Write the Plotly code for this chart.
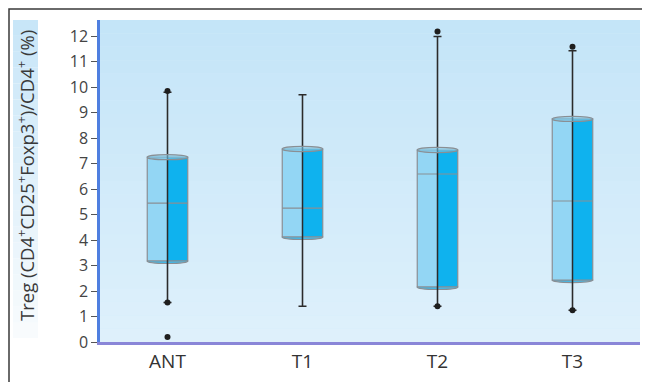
import plotly.graph_objects as go

# ---- data ----
categories = ["ANT", "T1", "T2", "T3"]
q1 = [3.18, 4.12, 2.16, 2.43]
median = [5.45, 5.25, 6.59, 5.53]
q3 = [7.25, 7.57, 7.53, 8.75]
lower_whisker = [1.55, 1.40, 1.40, 1.25]
upper_whisker = [9.80, 9.70, 11.98, 11.42]
point_cats = ["ANT", "ANT", "ANT", "T2", "T2", "T3", "T3"]
point_vals = [9.85, 1.55, 0.20, 12.18, 1.40, 11.58, 1.25]
y_ticks = list(range(0, 13))

# page geometry (the page body has an 8px margin)
PX0, PX1, PY0, PY1 = 100, 640, 20, 342  # plot area in page pixels
PW, PH = PX1 - PX0, PY1 - PY0


def px(x):
    return (x - PX0) / PW


def py(y):
    return (PY1 - y) / PH


fig = go.Figure()

heights = [b - a for a, b in zip(q1, q3)]
# cylinder look: left light half, right saturated half
fig.add_trace(go.Bar(x=categories, y=heights, base=q1, width=0.15, offset=-0.15,
                     marker=dict(color="#93d6f4", line=dict(width=0)), showlegend=False,
                     hoverinfo="skip"))
fig.add_trace(go.Bar(x=categories, y=heights, base=q1, width=0.15, offset=0.0,
                     marker=dict(color="#0fb2ee", line=dict(width=0)), showlegend=False,
                     hoverinfo="skip"))

fig.add_trace(go.Box(x=categories, q1=q1, median=median, q3=q3,
                     lowerfence=lower_whisker, upperfence=upper_whisker,
                     width=0.3, whiskerwidth=0, fillcolor="rgba(0,0,0,0)",
                     line=dict(color="#8a8f94", width=1.2), showlegend=False))

# whisker line through the box with caps
fig.add_trace(go.Scatter(
    x=categories, y=median, mode="markers",
    marker=dict(size=1, color="rgba(0,0,0,0)"),
    error_y=dict(type="data", symmetric=False,
                 array=[u - m for u, m in zip(upper_whisker, median)],
                 arrayminus=[m - l for m, l in zip(median, lower_whisker)],
                 color="#2b2b2b", thickness=1.5, width=4),
    showlegend=False))

fig.add_trace(go.Scatter(x=point_cats, y=point_vals, mode="markers",
                         marker=dict(size=6, color="#1e1e1e"), showlegend=False))

shapes = []
# plot-area gradient background
n = 24
top = (196, 229, 248)
bot = (222, 240, 251)
for i in range(n):
    t = i / (n - 1)
    c = tuple(round(bot[k] + (top[k] - bot[k]) * t) for k in range(3))
    shapes.append(dict(type="rect", xref="paper", yref="paper",
                       x0=0, x1=1, y0=i / n, y1=(i + 1) / n,
                       fillcolor="rgb(%d,%d,%d)" % c, line=dict(width=0), layer="below"))
# y-title highlight gradient
x0t, x1t = px(13), px(38)
ytop, ybot = py(20), py(338)
m = 20
for i in range(m):
    t = i / (m - 1)
    tc = (200, 230, 248)
    bc = (248, 251, 253)
    c = tuple(round(bc[k] + (tc[k] - bc[k]) * t) for k in range(3))
    shapes.append(dict(type="rect", xref="paper", yref="paper",
                       x0=x0t, x1=x1t,
                       y0=ybot + (ytop - ybot) * i / m, y1=ybot + (ytop - ybot) * (i + 1) / m,
                       fillcolor="rgb(%d,%d,%d)" % c, line=dict(width=0), layer="below"))
# cylinder bottoms (lower half shows beneath the bars)
for i, v in enumerate(q1):
    shapes.append(dict(type="circle", xref="x", yref="y",
                       x0=i - 0.15, x1=i + 0.15, y0=v - 0.1, y1=v + 0.1,
                       fillcolor="#3cbdf0",
                       line=dict(color="#8a8f94", width=1.2), layer="below"))
# cylinder tops
for i, v in enumerate(q3):
    shapes.append(dict(type="circle", xref="x", yref="y",
                       x0=i - 0.15, x1=i + 0.15, y0=v - 0.1, y1=v + 0.1,
                       fillcolor="rgba(120,205,243,0.55)",
                       line=dict(color="#8a8f94", width=1.2), layer="above"))
# outer frame
shapes.append(dict(type="rect", xref="paper", yref="paper",
                   x0=px(9), x1=1.1, y0=-0.3, y1=py(9),
                   line=dict(color="#3a3a3a", width=1.5), fillcolor="rgba(0,0,0,0)",
                   layer="above"))

fig.update_layout(
    width=642, height=374,
    margin=dict(l=PX0 - 8, r=642 + 8 - PX1, t=PY0 - 8, b=374 + 8 - PY1, autoexpand=False),
    paper_bgcolor="white", plot_bgcolor="#d4ecfa",
    font=dict(family="Open Sans, Noto Sans, sans-serif", color="#3a3a3a"),
    barmode="overlay",
    shapes=shapes,
    xaxis=dict(type="category", categoryorder="array", categoryarray=categories,
               range=[-0.5, 3.5], showgrid=False, zeroline=False,
               showline=True, linecolor="#8a86d8", linewidth=2.5,
               ticks="", tickfont=dict(size=19, color="#333333")),
    yaxis=dict(range=[0, 12.63], tickvals=y_ticks, showgrid=False, zeroline=False,
               showline=True, linecolor="#4f7fe0", linewidth=2.5,
               ticks="outside", ticklen=6, tickcolor="#555555", tickwidth=1.2,
               tickfont=dict(size=16, color="#444444")),
    annotations=[dict(text="Treg (CD4<sup>+</sup>CD25<sup>+</sup>Foxp3<sup>+</sup>)/CD4<sup>+</sup> (%)",
                      xref="paper", yref="paper", x=px(25), y=py(176),
                      textangle=-90, showarrow=False, font=dict(size=18.5, color="#3a3a3a"),
                      xanchor="center", yanchor="middle")],
)

fig.write_html("out.html")
